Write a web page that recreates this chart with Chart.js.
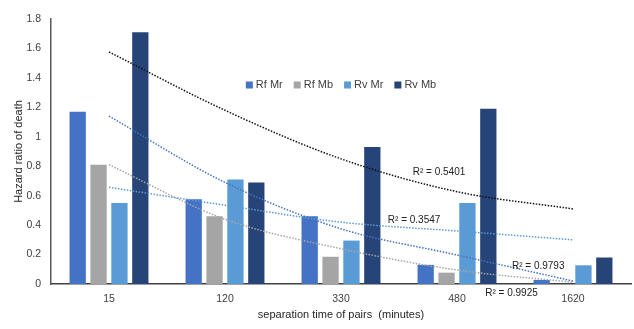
<!DOCTYPE html>
<html>
<head>
<meta charset="utf-8">
<script src="https://cdn.jsdelivr.net/npm/chart.js@4"></script>
<style>
  body { margin: 0; background: #fff; }
  #wrap { width: 634px; height: 329px; }
</style>
</head>
<body>
<div id="wrap"><canvas id="hazardChart" width="634" height="329"></canvas></div>
<script>
const ctx = document.getElementById('hazardChart').getContext('2d');

// separation time categories (minutes)
var categories = ['15', '120', '330', '480', '1620'];

// bar values
var rfMr = [1.17, 0.575, 0.46, 0.13, 0.027];
var rfMb = [0.81, 0.46, 0.185, 0.077, 0];
var rvMr = [0.55, 0.71, 0.295, 0.55, 0.127];
var rvMb = [1.71, 0.69, 0.93, 1.19, 0.18];

// dotted trend lines, read at each category
var rfMrTrend = [1.14, 0.69, 0.375, 0.197, 0.02];
var rfMbTrend = [0.81, 0.44, 0.24, 0.095, 0.012];
var rvMrTrend = [0.657, 0.535, 0.42, 0.36, 0.30];
var rvMbTrend = [1.576, 1.18, 0.85, 0.627, 0.51];

var r2Text = ['R\u00b2 = 0.5401', 'R\u00b2 = 0.3547', 'R\u00b2 = 0.9793', 'R\u00b2 = 0.9925'];

var yTicks = [0, 0.2, 0.4, 0.6, 0.8, 1, 1.2, 1.4, 1.6, 1.8];

const FONT = "'Liberation Sans', Arial, sans-serif";

function trend(label, data, color) {
  return {
    type: 'line',
    label: label,
    data: data,
    borderColor: color,
    borderWidth: 1.5,
    borderDash: [1.5, 1.5],
    pointRadius: 0,
    fill: false,
    cubicInterpolationMode: 'monotone',
    order: 0
  };
}

function bars(label, data, color) {
  return {
    type: 'bar',
    label: label,
    data: data,
    backgroundColor: color,
    borderWidth: 0,
    categoryPercentage: 0.72,
    barPercentage: 0.78,
    order: 1
  };
}

// legend drawn inside the plot, like the original
const legendInside = {
  id: 'legendInside',
  afterDraw(chart) {
    const c = chart.ctx;
    const area = chart.chartArea;
    const items = chart.data.datasets.filter(d => d.type === 'bar');
    c.save();
    c.font = '11px ' + FONT;
    c.textBaseline = 'middle';
    const box = 7, gapBox = 3, gapItem = 11;
    let total = 0;
    items.forEach((d, i) => {
      total += box + gapBox + c.measureText(d.label).width + (i < items.length - 1 ? gapItem : 0);
    });
    let x = (area.left + area.right) / 2 - total / 2;
    const y = area.top + 66;
    items.forEach(d => {
      c.fillStyle = d.backgroundColor;
      c.fillRect(x, y - box / 2, box, box);
      x += box + gapBox;
      c.fillStyle = '#404040';
      c.fillText(d.label, x, y);
      x += c.measureText(d.label).width + gapItem;
    });
    c.restore();
  }
};

// R² labels, anchored in data space (category index, value)
const r2Labels = {
  id: 'r2Labels',
  afterDraw(chart) {
    const c = chart.ctx;
    const xs = chart.scales.x, ys = chart.scales.y;
    const at = [[2.845, 0.76], [2.63, 0.435], [3.70, 0.122], [3.47, -0.061]];
    c.save();
    c.font = '10px ' + FONT;
    c.fillStyle = '#222';
    c.textAlign = 'center';
    c.textBaseline = 'middle';
    r2Text.forEach((t, i) => {
      c.fillText(t, xs.getPixelForValue(at[i][0]), ys.getPixelForValue(at[i][1]));
    });
    c.restore();
  }
};

var hazardChart = new Chart(ctx, {
  data: {
    labels: categories,
    datasets: [
      bars('Rf Mr', rfMr, '#4472c4'),
      bars('Rf Mb', rfMb, '#a5a5a5'),
      bars('Rv Mr', rvMr, '#5b9bd5'),
      bars('Rv Mb', rvMb, '#264478'),
      trend('Rf Mr trend', rfMrTrend, '#4472c4'),
      trend('Rf Mb trend', rfMbTrend, '#a5a5a5'),
      trend('Rv Mr trend', rvMrTrend, '#5b9bd5'),
      trend('Rv Mb trend', rvMbTrend, '#111111')
    ]
  },
  options: {
    responsive: false,
    animation: false,
    layout: { padding: { top: 19, right: 3, left: 12, bottom: 7 } },
    plugins: {
      legend: { display: false },
      tooltip: { enabled: false }
    },
    scales: {
      x: {
        grid: { display: false },
        border: { display: true, color: '#404040', width: 1.5 },
        ticks: { color: '#404040', font: { family: FONT, size: 10.5 }, padding: 1 },
        title: {
          display: true,
          text: 'separation time of pairs  (minutes)',
          color: '#262626',
          font: { family: FONT, size: 11 },
          padding: { top: 2, bottom: 0 }
        },
        afterFit(scale) { scale.height = 38; }
      },
      y: {
        min: 0,
        max: 1.8,
        afterBuildTicks(scale) { scale.ticks = yTicks.map(v => ({ value: v })); },
        grid: { display: false },
        border: { display: true, color: '#595959', width: 1.5 },
        ticks: {
          color: '#404040',
          font: { family: FONT, size: 10.5 },
          padding: 2,
          callback: v => String(Math.round(v * 10) / 10)
        },
        title: {
          display: true,
          text: 'Hazard ratio of death',
          color: '#262626',
          font: { family: FONT, size: 11 },
          padding: 0
        },
        afterFit(scale) { scale.width = 39; }
      }
    }
  },
  plugins: [legendInside, r2Labels]
});
</script>
</body>
</html>
